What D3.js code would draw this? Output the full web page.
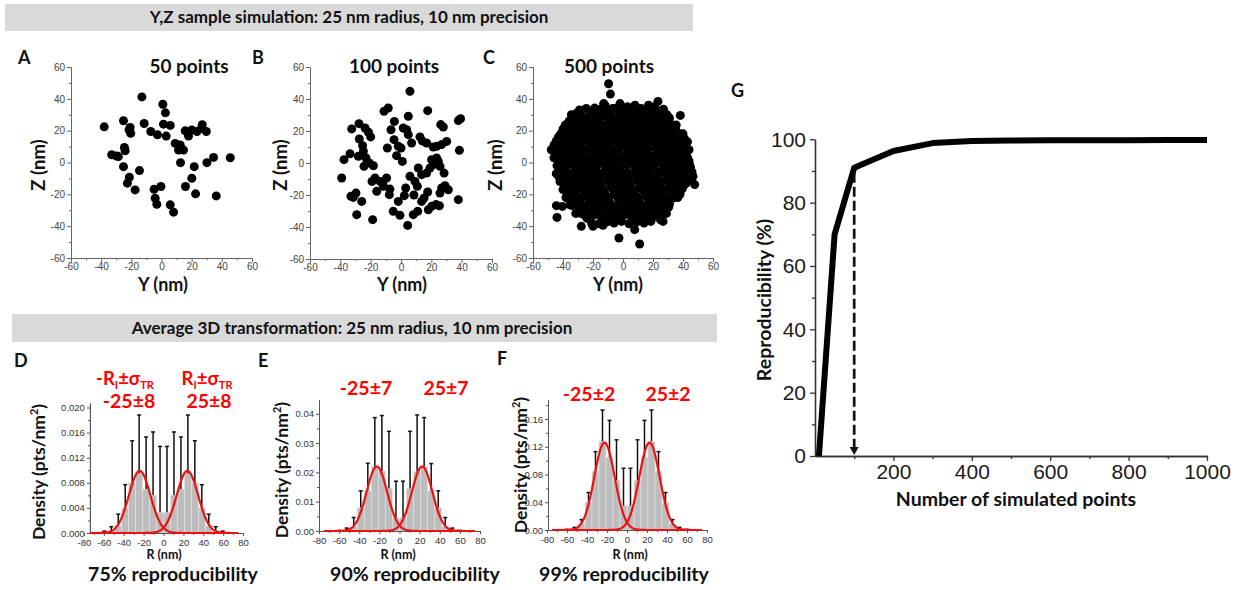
<!DOCTYPE html>
<html>
<head>
<meta charset="utf-8">
<script src="https://cdn.jsdelivr.net/npm/d3@7"></script>
<style>
  body { margin: 0; background: #fff; }
  svg { display: block; }
</style>
</head>
<body>
<script>
// ---------------- data ----------------
// Y,Z localisations (nm) of the three simulated samples
const scatterA = [[-38,22.4],[-13,41.2],[0.9,36.6],[2.6,31.2],[-25.2,26.2],[-11.5,24.5],[-20.8,22],[-20.4,18.3],
  [-7.1,19.5],[-2.7,17.4],[1.3,24.1],[5.8,23.3],[3.1,16.6],[15.7,19.9],[17.9,16.6],[20.1,20.4],[23.5,19.5],
  [27,23.7],[29.7,19.5],[9.1,12],[11.3,7.8],[14.6,7.8],[12.4,11],[-33,4.9],[-29.7,4.1],[-24.6,9.5],[-24.1,7.4],
  [-28.6,3.7],[-25.2,-2.6],[-14.6,-5.1],[-21.3,-9.3],[-22.6,-13],[-17.5,-17.2],[-4.9,-16.8],[-0.4,-15.1],
  [-4.2,-22.4],[-3.1,-26.2],[5.8,-26.6],[8,-31.2],[12.6,-0.1],[21.7,-2.6],[20.1,-9.9],[15.9,-15.1],[22.6,-19.7],
  [30.1,-0.1],[34.5,3.2],[45.6,3],[36.3,-21],[26.5,21.5],[-21.5,20.5]];

const scatterB = [[5.9,44.8],[-11.2,32.3],[-8.4,34.4],[4.8,29.2],[17.6,32.7],[39.3,27.7],[37.8,26.5],[-32.5,21.3],
  [-27.7,24.6],[-23.7,21.9],[-21.5,19.2],[-20,16.3],[-4.4,26],[-6.6,20.8],[1.5,21.9],[3.7,20.8],[4.8,17.7],
  [7,12.5],[12.5,16.3],[16.9,12.5],[21.3,10],[26.2,24],[27.9,22.5],[30.1,13.5],[26.8,11.5],[23.5,10.4],[38.5,7.9],
  [-27.5,15],[-25.3,10.8],[-24.8,7.3],[-28.1,4.2],[-33.6,5.8],[-37.6,2.1],[-23.1,3.1],[-20.9,0],[-18.2,-1.7],
  [-24.4,-2.1],[-9,9.4],[0,9.4],[-2.9,4.6],[0.9,1],[-39.1,-9.4],[-19.1,-11.5],[-13.8,-11.5],[-11.6,-14.6],
  [-16,-17.7],[-9.5,-9.4],[-7.3,-16.3],[-7.7,-19.8],[-33,-20.8],[-29.7,-18.8],[-25.9,-24],[-29.2,-32.3],
  [-18.7,-35.4],[-5.1,-30.2],[-0.7,-32.7],[4.4,-39],[8.1,-32.3],[11,-30.2],[2.2,-20.4],[3.1,-15.6],[5.9,-8.3],
  [9.2,-11.5],[10.8,-14.6],[13.6,-24],[15.2,-21.9],[17.6,-18.1],[18,-29.2],[20.2,-27.1],[23.1,-26],[25.3,-26.7],
  [25.7,-18.8],[26.8,-15.6],[29,-14.2],[31.2,-16.7],[28.4,-6.3],[37.8,-22.9],[11.4,-3.1],[13.6,-7.3],[16.9,-6.3],
  [19.1,-3.1],[20.2,2.1],[21.3,-1],[23.5,3.1],[24.6,1],[25.7,-2.1],[-17.1,-9.4],[-1.8,10.4],[-4.6,14.6],
  [-1.8,-24],[-31.5,-21.5],[14,13.8],[8.5,-20],[-12,-13]];

const scatterC = [
  // outer points
  [-9.6,49.5],[-8.4,43],[-12.9,37],[-34.4,30],[-18.9,34.2],[23.3,38.4],[29.3,30],[38.2,29.6],[-47.8,8],[-44.4,11.2],
  [-43.3,-2.4],[-42.9,-8.7],[-40,-11.8],[-37.3,-18.1],[-44.4,-27.1],[-44,-34.5],[-40.4,-27.6],[-35.6,-26.5],
  [-28.9,-31.7],[-27.8,-40.1],[-20,-40.1],[-13.3,-39.5],[-2.7,-47.4],[11.1,-51.2],[7.8,-42.2],[18.9,-35.9],
  [26.7,-37],[25.6,-29.6],[33.3,-22.3],[42.2,-12.9],[47.8,-13.9],[46.7,-8.7],[44.4,-1.4],[42.2,4.3],[36.7,14.3],
  [31.6,21.7],[-44.9,6.4],
  // dense core
  [-12,36],[-7,34],[-2,37],[3,35],[8,36],[12,34],[17,36],[21,35],
  [-31,31],[-27,29],[-22,32],[-17,30],[-13,31],[-8,29],[-3,32],[1,30],[6,31],[11,29],[15,32],[20,30],[25,31],[29,29],
  [-36,26],[-33,24],[-28,27],[-24,25],[-19,26],[-15,24],[-10,27],[-5,25],[-1,26],[4,24],[9,27],[13,25],[18,26],
  [23,24],[27,27],[31,25],[34,23],
  [-40,21],[-37,19],[-32,22],[-27,20],[-22,21],[-17,19],[-12,22],[-8,20],[-3,21],[2,19],[7,22],[11,20],[16,21],
  [21,19],[26,22],[30,20],[35,21],[38,18],
  [-43,16],[-39,14],[-35,17],[-30,15],[-25,16],[-20,14],[-15,17],[-10,15],[-5,16],[0,14],[5,17],[9,15],[14,16],
  [19,14],[24,17],[28,15],[33,16],[37,14],[41,15],
  [-46,11],[-42,9],[-38,12],[-33,10],[-28,11],[-23,9],[-18,12],[-13,10],[-8,11],[-3,9],[2,12],[7,10],[12,11],
  [17,9],[22,12],[26,10],[31,11],[36,9],[40,12],[43,8],
  [-45,6],[-41,4],[-36,7],[-31,5],[-26,6],[-21,4],[-16,7],[-11,5],[-6,6],[-1,4],[4,7],[9,5],[14,6],[19,4],[24,7],
  [29,5],[33,6],[38,4],[42,6],
  [-43,1],[-39,-1],[-34,2],[-29,0],[-24,1],[-19,-1],[-14,2],[-9,0],[-4,1],[1,-1],[6,2],[11,0],[16,1],[21,-1],
  [26,2],[31,0],[36,1],[40,-1],[44,1],
  [-42,-4],[-37,-6],[-32,-3],[-27,-5],[-22,-4],[-17,-6],[-12,-3],[-7,-5],[-2,-4],[3,-6],[8,-3],[13,-5],[18,-4],
  [23,-6],[28,-3],[33,-5],[38,-4],[42,-6],
  [-41,-9],[-36,-11],[-31,-8],[-26,-10],[-21,-9],[-16,-11],[-11,-8],[-6,-10],[-1,-9],[4,-11],[9,-8],[14,-10],
  [19,-9],[24,-11],[29,-8],[34,-10],[39,-9],[44,-11],
  [-39,-14],[-34,-16],[-29,-13],[-24,-15],[-19,-14],[-14,-16],[-9,-13],[-4,-15],[1,-14],[6,-16],[11,-13],[16,-15],
  [21,-14],[26,-16],[31,-13],[36,-15],[41,-14],
  [-36,-19],[-31,-21],[-26,-18],[-21,-20],[-16,-19],[-11,-21],[-6,-18],[-1,-20],[4,-19],[9,-21],[14,-18],[19,-20],
  [24,-19],[29,-21],[34,-18],[38,-20],
  [-33,-24],[-28,-26],[-23,-23],[-18,-25],[-13,-24],[-8,-26],[-3,-23],[2,-25],[7,-24],[12,-26],[17,-23],[22,-25],
  [27,-24],[31,-26],
  [-29,-29],[-24,-31],[-19,-28],[-14,-30],[-9,-29],[-4,-31],[1,-28],[6,-30],[11,-29],[16,-31],[21,-28],[26,-30],[29,-32],
  [-24,-35],[-19,-33],[-14,-36],[-9,-34],[-4,-35],[1,-33],[6,-36],[11,-34],[16,-35],[21,-33],[25,-36],
  [-29,33],[-24.5,34],[-19.5,33],[-15,33.5],[-10,32.5],[-5.5,34],[-0.5,33],[4,33.5],[8.5,32.5],[13.5,33.5],[18,33],
  [22.5,33],[27,33.5],
  [-33.5,28],[-29.5,28.5],[-25,27.5],[-20,29],[-15.5,28],[-10.5,28.5],[-6,27.5],[-1,29],[3.5,28],[8,28.5],[13,28],
  [17.5,28.5],[22.5,27.5],[27,29],[31,28],
  [-38.5,23.5],[-34.5,22.5],[-30,24],[-25.5,23],[-20.5,23.5],[-16,22.5],[-11,24],[-6.5,23],[-1.5,23.5],[3,22.5],
  [8,24],[12.5,23],[17.5,23.5],[22,22.5],[27,24],[31.5,23],[35.5,23.5],
  [-41.5,18],[-37.5,17],[-34,19],[-29,18],[-24.5,18.5],[-19.5,17.5],[-14.5,19],[-10,18],[-5,18.5],[-0.5,17.5],
  [4.5,19],[9,18],[14,18.5],[18.5,17.5],[23.5,19],[28,18],[33,18.5],[37.5,17.5],[40,18],
  [-44.5,13.5],[-41,12.5],[-36.5,14],[-31.5,13],[-27,13.5],[-22,12.5],[-17,14],[-12.5,13],[-7.5,13.5],[-2.5,12.5],
  [2.5,14],[7,13],[12,13.5],[16.5,12.5],[21.5,14],[26,13],[31,13.5],[35.5,12.5],[39.5,13],[43,13],
  [-47,8],[-44,7.5],[-39.5,9],[-35,8],[-30,8.5],[-25.5,7.5],[-20.5,9],[-15.5,8],[-11,8.5],[-6,7.5],[-1.5,9],[3.5,8],
  [8,8.5],[13,7.5],[17.5,9],[22.5,8],[27,8.5],[31.5,7.5],[36,8],[40.5,9],[44,8],
  [-46,3],[-42.5,2.5],[-38,4],[-33,3],[-28.5,3.5],[-23.5,2.5],[-18.5,4],[-14,3],[-9,3.5],[-4.5,2.5],[0.5,4],[5,3],
  [10,3.5],[14.5,2.5],[19.5,4],[24,3],[29,3.5],[33.5,2.5],[38.5,3.5],[43,3],
  [-44,-2],[-40.5,-2.5],[-36,-1],[-31.5,-2],[-26.5,-1.5],[-21.5,-2.5],[-17,-1],[-12,-2],[-7,-1.5],[-2.5,-2.5],
  [2.5,-1],[7.5,-2],[12,-1.5],[17,-2.5],[21.5,-1],[26.5,-2],[31,-1.5],[36,-2.5],[40.5,-1.5],[45,-3],
  [-44.5,-7],[-39.5,-6.5],[-34.5,-7.5],[-30,-6],[-25,-7],[-20,-6.5],[-15.5,-7.5],[-10.5,-6],[-5.5,-7],[-1,-6.5],
  [4,-7.5],[8.5,-6],[13.5,-7],[18,-6.5],[23,-7.5],[27.5,-6],[32.5,-7],[37,-6.5],[41.5,-7.5],[46,-6],
  [-42,-12],[-38.5,-11.5],[-33.5,-12.5],[-29,-11],[-24,-12],[-19,-11.5],[-14.5,-12.5],[-9.5,-11],[-4.5,-12],[0,-11.5],
  [5,-12.5],[9.5,-11],[14.5,-12],[19,-11.5],[24,-12.5],[28.5,-11],[33.5,-12],[38,-11.5],[42.5,-12.5],
  [-40,-17],[-36.5,-16.5],[-31.5,-17.5],[-27,-16],[-22,-17],[-17,-16.5],[-12.5,-17.5],[-7.5,-16],[-2.5,-17],[2,-16.5],
  [7,-17.5],[11.5,-16],[16.5,-17],[21,-16.5],[26,-17.5],[30.5,-16],[35,-17],[39.5,-16.5],
  [-38,-22],[-33.5,-21.5],[-28.5,-22.5],[-24,-21],[-19,-22],[-14,-21.5],[-9.5,-22.5],[-4.5,-21],[0.5,-22],[5,-21.5],
  [10,-22.5],[14.5,-21],[19.5,-22],[24,-21.5],[29,-22.5],[33,-21],[36.5,-22],
  [-34,-27],[-30.5,-26.5],[-25.5,-27.5],[-21,-26],[-16,-27],[-11,-26.5],[-6.5,-27.5],[-1.5,-26],[3.5,-27],[8,-26.5],
  [13,-27.5],[17.5,-26],[22.5,-27],[27,-26.5],[30.5,-28],
  [-31.5,-32],[-26.5,-32.5],[-21.5,-31],[-17,-32],[-12,-31.5],[-7,-32.5],[-2.5,-31],[2.5,-32],[7,-31.5],[12,-32.5],
  [16.5,-31],[21.5,-32],[26,-32.5],
  [-21,-38],[-16,-38.5],[-11,-37.5],[-6,-38],[-1,-37],[4,-38.5],[9,-37.5],[14,-38],[18.5,-37]];

// radial density histograms: bin centres (nm), bar heights and upper error-bar ends (pts/nm^2)
const binCenters = [-59.5,-52.5,-45.5,-38.5,-31.5,-24.5,-17.5,-10.5,-3.5,3.5,10.5,17.5,24.5,31.5,38.5,45.5,52.5,59.5];
const densityD = [0.0001,0.0003,0.0012,0.004,0.008,0.0095,0.007,0.006,0.0033,0.0033,0.006,0.007,0.0095,0.008,0.004,0.0012,0.0003,0.0001];
const errTopD  = [0.0003,0.001,0.003,0.0077,0.0147,0.0188,0.0153,0.0161,0.0138,0.0138,0.0161,0.0153,0.0188,0.0147,0.0077,0.003,0.001,0.0003];
const densityE = [0,0.0003,0.0015,0.008,0.0138,0.022,0.0205,0.0145,0.0045,0.0045,0.0145,0.0203,0.022,0.0138,0.008,0.0015,0.0003,0];
const errTopE  = [0.0002,0.001,0.0046,0.0137,0.0231,0.0387,0.0394,0.034,0.017,0.017,0.034,0.0396,0.0387,0.023,0.0137,0.0046,0.001,0.0002];
const densityF = [0.0005,0.002,0.009,0.04,0.085,0.128,0.105,0.072,0.035,0.035,0.072,0.105,0.128,0.085,0.04,0.009,0.002,0.0005];
const errTopF  = [0.001,0.0038,0.015,0.054,0.113,0.173,0.158,0.13,0.089,0.089,0.13,0.158,0.173,0.113,0.054,0.015,0.0038,0.001];

// Gaussian fits: [amplitude, centre, sigma] of the left and right peaks
const fitD = [[0.0099,-24,10.8],[0.0099,24,10.8]];
const fitE = [[0.022,-22.5,10.2],[0.022,22.5,10.2]];
const fitF = [[0.126,-22.5,10.2],[0.126,22.5,10.2]];

// reproducibility vs number of simulated points
const simulatedPoints = [10,50,100,200,300,400,500,600,700,800,900,1000];
const reproducibility = [0,70,91,96.3,98.8,99.5,99.6,99.7,99.7,99.7,99.8,99.8];
const thresholdPoints = 100;

const scatterTicks = [-60,-40,-20,0,20,40,60];
const histXTicks = [-80,-60,-40,-20,0,20,40,60,80];
const yTicksD = [0,0.004,0.008,0.012,0.016,0.020];
const yTicksE = [0,0.01,0.02,0.03,0.04];
const yTicksF = [0,0.04,0.08,0.12,0.16];
const gXTicks = [200,400,600,800,1000];
const gYTicks = [0,20,40,60,80,100];

// ---------------- drawing ----------------
const W = 1241, H = 590;
const BOLD = "Lato, 'Open Sans', sans-serif";
const PLAIN = "'Liberation Sans', Arial, sans-serif";
const svg = d3.select("body").append("svg").attr("width", W).attr("height", H);

function text(x, y, str, o = {}) {
  const t = svg.append("text").attr("x", x).attr("y", y)
    .attr("font-family", o.family || BOLD).attr("font-weight", o.weight || "bold")
    .attr("font-size", o.size || 17).attr("fill", o.fill || "#111")
    .attr("text-anchor", o.anchor || "middle");
  if (o.rotate) t.attr("transform", `rotate(-90,${x},${y})`);
  if (str !== null) t.text(str);
  return t;
}

function axes(x, y, o) {
  const col = o.color || "#444";
  const style = (g) => {
    g.attr("font-family", PLAIN).attr("font-size", o.fs).attr("font-weight", "normal");
    g.select(".domain").attr("stroke", col).attr("stroke-width", o.sw || 1);
    g.selectAll(".tick line").attr("stroke", col).attr("stroke-width", o.sw || 1);
    g.selectAll(".tick text").attr("fill", o.labelColor || "#333");
  };
  const by = y.range()[0], lx = x.range()[0];
  svg.append("g").attr("transform", `translate(0,${by})`)
    .call(d3.axisBottom(x).tickValues(o.xMinor).tickSize(o.minor).tickSizeOuter(0).tickFormat(""))
    .call(style);
  svg.append("g").attr("transform", `translate(${lx},0)`)
    .call(d3.axisLeft(y).tickValues(o.yMinor).tickSize(o.minor).tickSizeOuter(0).tickFormat(""))
    .call(style);
  svg.append("g").attr("transform", `translate(0,${by})`)
    .call(d3.axisBottom(x).tickValues(o.xTicks).tickSize(o.major).tickSizeOuter(0)
      .tickPadding(o.padX).tickFormat(o.xFmt))
    .call(style);
  svg.append("g").attr("transform", `translate(${lx},0)`)
    .call(d3.axisLeft(y).tickValues(o.yTicks).tickSize(o.major).tickSizeOuter(0)
      .tickPadding(o.padY).tickFormat(o.yFmt))
    .call(style);
}

const minusFmt = d => d3.format("d")(d).replace("−", "-");

// banners
svg.append("rect").attr("x", 5).attr("y", 4).attr("width", 688).attr("height", 27).attr("fill", "#d9d9d9");
text(349, 23, "Y,Z sample simulation: 25 nm radius, 10 nm precision", { size: 17 });
svg.append("rect").attr("x", 12).attr("y", 314).attr("width", 705).attr("height", 28).attr("fill", "#d9d9d9");
text(352, 334, "Average 3D transformation: 25 nm radius, 10 nm precision", { size: 17 });

// ---- scatter panels A-C ----
const scatterPanels = [
  { data: scatterA, x0: 71, x1: 252, yb: 258, yt: 67, letter: "A", lx: 18, title: "50 points", tx: 189, zx: 45, yx: 163 },
  { data: scatterB, x0: 310, x1: 492, yb: 259, yt: 67, letter: "B", lx: 252, title: "100 points", tx: 394, zx: 287, yx: 402 },
  { data: scatterC, x0: 533, x1: 713, yb: 258, yt: 67, letter: "C", lx: 483, title: "500 points", tx: 609, zx: 502, yx: 618 }
];
const minor10 = d3.range(-50, 60, 20);
scatterPanels.forEach(p => {
  const x = d3.scaleLinear().domain([-60, 60]).range([p.x0, p.x1]);
  const y = d3.scaleLinear().domain([-60, 60]).range([p.yb, p.yt]);
  axes(x, y, { xTicks: scatterTicks, yTicks: scatterTicks, xMinor: minor10, yMinor: minor10,
    major: 4, minor: 2, padX: 1, padY: 2, fs: 10, xFmt: minusFmt, yFmt: minusFmt, color: "#666", labelColor: "#444" });
  svg.append("g").selectAll("circle").data(p.data).join("circle")
    .attr("cx", d => x(d[0])).attr("cy", d => y(d[1])).attr("r", 4.5).attr("fill", "#000");
  text(p.lx, 64, p.letter, { anchor: "start", size: 18 });
  text(p.tx, 73, p.title, { size: 19 });
  text(p.yx, 291, "Y (nm)", { size: 18 });
  text(p.zx, 165, "Z (nm)", { size: 18.5, rotate: true });
});

// ---- histogram panels D-F ----
const histPanels = [
  { dens: densityD, err: errTopD, fit: fitD, xDom: [-74, 80], xr: [89.9, 243.1], yTop: 0.0207, yr: [533, 403.1],
    yTicks: yTicksD, yMinor: d3.range(0.002, 0.021, 0.004), yFmt: d3.format(".3f"),
    letter: "D", lx: 14, ly: 367, labL: "-25±8", labR: "25±8", lcx: [129, 209], lby: 408,
    dx: 45, dy: 472, rx: 164, rep: "75% reproducibility", repx: 173 },
  { dens: densityE, err: errTopE, fit: fitE, xDom: [-80, 80], xr: [319, 480], yTop: 0.0447, yr: [531, 400],
    yTicks: yTicksE, yMinor: d3.range(0.005, 0.045, 0.01), yFmt: d3.format(".2f"),
    letter: "E", lx: 258, ly: 367, labL: "-25±7", labR: "25±7", lcx: [366, 446], lby: 395,
    dx: 288, dy: 470, rx: 398, rep: "90% reproducibility", repx: 415 },
  { dens: densityF, err: errTopF, fit: fitF, xDom: [-79, 80], xr: [548, 707], yTop: 0.188, yr: [530, 399.6],
    yTicks: yTicksF, yMinor: d3.range(0.02, 0.19, 0.04), yFmt: d3.format(".2f"),
    letter: "F", lx: 497, ly: 365, labL: "-25±2", labR: "25±2", lcx: [589, 668], lby: 401,
    dx: 527, dy: 465, rx: 630, rep: "99% reproducibility", repx: 624 }
];
histPanels.forEach(p => {
  const x = d3.scaleLinear().domain(p.xDom).range(p.xr);
  const y = d3.scaleLinear().domain([0, p.yTop]).range(p.yr);
  const half = 3.5;
  const g = svg.append("g");
  // bars
  g.selectAll("rect").data(binCenters).join("rect")
    .attr("x", c => x(c - half)).attr("width", c => x(c + half) - x(c - half))
    .attr("y", (c, i) => y(p.dens[i])).attr("height", (c, i) => y(0) - y(p.dens[i]))
    .attr("fill", "#bdbdbd").attr("stroke", "#e4e4e4").attr("stroke-width", 0.6);
  // upper error bars
  g.selectAll("line.eb").data(binCenters).join("line").attr("class", "eb")
    .attr("x1", c => x(c)).attr("x2", c => x(c))
    .attr("y1", (c, i) => y(p.dens[i])).attr("y2", (c, i) => y(p.err[i]))
    .attr("stroke", "#111").attr("stroke-width", 1.5);
  g.selectAll("line.cap").data(binCenters).join("line").attr("class", "cap")
    .attr("x1", c => x(c) - 2).attr("x2", c => x(c) + 2)
    .attr("y1", (c, i) => y(p.err[i])).attr("y2", (c, i) => y(p.err[i]))
    .attr("stroke", "#111").attr("stroke-width", 1.5);
  axes(x, y, { xTicks: histXTicks, yTicks: p.yTicks, xMinor: d3.range(-70, 80, 20), yMinor: p.yMinor,
    major: 3, minor: 2, padX: 3.5, padY: 2, fs: 9.5, xFmt: minusFmt, yFmt: p.yFmt, color: "#555" });
  // Gaussian fit curves
  const xs = d3.range(Math.max(p.xDom[0], -75), 75.01, 0.5);
  p.fit.forEach(([a, mu, s]) => {
    svg.append("path").datum(xs)
      .attr("d", d3.line().x(v => x(v)).y(v => y(a * Math.exp(-((v - mu) ** 2) / (2 * s * s)))))
      .attr("fill", "none").attr("stroke", "#ee1111").attr("stroke-width", 2.2);
  });
  text(p.lx, p.ly, p.letter, { anchor: "start", size: 18 });
  text(p.lcx[0], p.lby, p.labL, { size: 19.5, fill: "#ff0000" });
  text(p.lcx[1], p.lby, p.labR, { size: 19.5, fill: "#ff0000" });
  const dl = text(p.dx, p.dy, null, { size: 17.5, rotate: true });
  dl.append("tspan").text("Density (pts/nm");
  dl.append("tspan").attr("dy", -7).attr("font-size", 11).text("2");
  dl.append("tspan").attr("dy", 7).text(")");
  text(p.rx, 559, "R (nm)", { size: 12.5 });
  text(p.repx, 581, p.rep, { size: 19.5 });
});

// symbolic labels above the peaks in D
[[125, "-R"], [207, "R"]].forEach(([cx, head]) => {
  const t = text(cx, 385, null, { size: 18.5, fill: "#ff0000" });
  t.append("tspan").text(head);
  t.append("tspan").attr("dy", 4).attr("font-size", 11).text("I");
  t.append("tspan").attr("dy", -4).text("±σ");
  t.append("tspan").attr("dy", 4).attr("font-size", 11).text("TR");
});

// ---- panel G ----
{
  const x = d3.scaleLinear().domain([0, 1000]).range([815, 1207]);
  const y = d3.scaleLinear().domain([0, 100]).range([456, 139.3]);
  axes(x, y, { xTicks: gXTicks, yTicks: gYTicks, xMinor: d3.range(100, 1000, 200), yMinor: d3.range(10, 100, 20),
    major: 5, minor: 3, padX: 3, padY: 4, fs: 21, xFmt: d3.format("d"), yFmt: d3.format("d"),
    color: "#333", sw: 1.3, labelColor: "#1a1a1a" });
  const pts = simulatedPoints.map((n, i) => [n, reproducibility[i]]);
  svg.append("path").datum(pts)
    .attr("d", d3.line().x(d => x(d[0])).y(d => y(d[1])))
    .attr("fill", "none").attr("stroke", "#000").attr("stroke-width", 6)
    .attr("stroke-linejoin", "round");
  // dashed marker down to the 90 % crossing
  const ax = x(thresholdPoints);
  const yTip = y(0) - 1;
  const yStart = y(reproducibility[simulatedPoints.indexOf(thresholdPoints)]) + 5;
  svg.append("line").attr("x1", ax).attr("x2", ax).attr("y1", yStart).attr("y2", yTip - 7)
    .attr("stroke", "#111").attr("stroke-width", 2.7).attr("stroke-dasharray", "10,4");
  svg.append("path").attr("d", `M${ax - 4.5},${yTip - 8}L${ax + 4.5},${yTip - 8}L${ax},${yTip}Z`).attr("fill", "#111");
  text(731, 97, "G", { anchor: "start", size: 18 });
  text(771, 300, "Reproducibility (%)", { size: 19.5, rotate: true });
  text(1016, 506, "Number of simulated points", { size: 19.5 });
}
</script>
</body>
</html>
